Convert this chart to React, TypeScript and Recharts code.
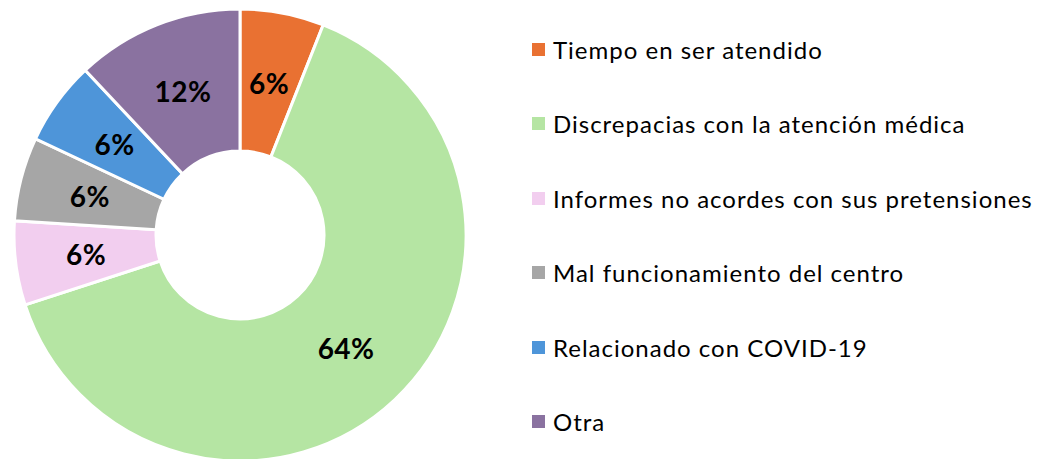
import React from 'react';
import { PieChart, Pie, Cell, Legend } from 'recharts';

const categories = [
  'Tiempo en ser atendido',
  'Discrepacias con la atención médica',
  'Informes no acordes con sus pretensiones',
  'Mal funcionamiento del centro',
  'Relacionado con COVID-19',
  'Otra',
];
const values = [6, 64, 6, 6, 6, 12];
const colors = ['#E97132', '#B5E5A3', '#F2CEEF', '#A6A6A6', '#4E95D9', '#8A72A0'];

const data = categories.map((name, i) => ({ name, value: values[i] }));

const RAD = Math.PI / 180;
const FONT = 'Lato, "Liberation Sans", sans-serif';

const renderLabel = (props: any) => {
  const { cx, cy, midAngle, innerRadius, outerRadius, value } = props;
  const r = (innerRadius + outerRadius) / 2;
  const x = cx + r * Math.cos(-midAngle * RAD);
  const y = cy + r * Math.sin(-midAngle * RAD);
  return (
    <text
      x={x}
      y={y}
      textAnchor="middle"
      dominantBaseline="central"
      fill="#000"
      fontFamily={FONT}
      fontWeight={700}
      fontSize={28}
      letterSpacing={0.5}
    >
      {value}%
    </text>
  );
};

const renderLegend = () => (
  <div style={{ fontFamily: FONT }}>
    {categories.map((name, i) => (
      <div
        key={name}
        style={{
          display: 'flex',
          alignItems: 'center',
          height: 74.5,
          fontSize: 24,
          letterSpacing: 1,
          color: '#000',
          whiteSpace: 'nowrap',
        }}
      >
        <span style={{ display: 'inline-block', width: 13, height: 13, background: colors[i], marginRight: 8 }} />
        <span>{name}</span>
      </div>
    ))}
  </div>
);

export default function App() {
  return (
    <div style={{ position: 'absolute', left: 0, top: 0, background: '#fff' }}>
      <PieChart width={1051} height={459} margin={{ top: 0, left: 0, right: 0, bottom: 0 }}>
        <Pie
          data={data}
          dataKey="value"
          nameKey="name"
          cx={240}
          cy={235}
          innerRadius={84}
          outerRadius={226}
          startAngle={90}
          endAngle={-270}
          stroke="#fff"
          strokeWidth={3}
          label={renderLabel}
          labelLine={false}
          isAnimationActive={false}
        >
          {data.map((d, i) => (
            <Cell key={d.name} fill={colors[i]} />
          ))}
        </Pie>
        <Legend
          layout="vertical"
          align="right"
          verticalAlign="top"
          content={renderLegend}
          wrapperStyle={{ left: 532, top: 12, right: 'auto', width: 519 }}
        />
      </PieChart>
    </div>
  );
}
